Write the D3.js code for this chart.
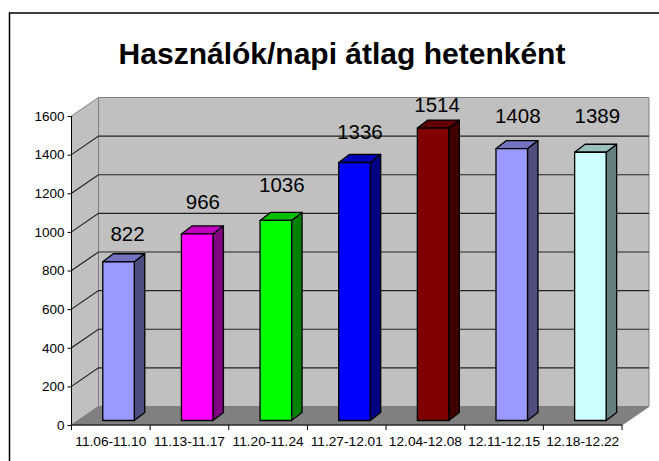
<!DOCTYPE html>
<html><head><meta charset="utf-8">
<script src="https://cdn.jsdelivr.net/npm/d3@7/dist/d3.min.js"></script>
<style>html,body{margin:0;padding:0;background:#fff}svg{display:block}text{font-family:"Liberation Sans",Arial,sans-serif;fill:#000}</style>
</head><body><div id="c"></div>
<script>
const chartTitle = "Használók/napi átlag hetenként";
const categories = ["11.06-11.10","11.13-11.17","11.20-11.24","11.27-12.01","12.04-12.08","12.11-12.15","12.18-12.22"];
const values = [822,966,1036,1336,1514,1408,1389];
const frontColors = ["#9999ff","#ff00ff","#00ff00","#0000ff","#800000","#9999ff","#ccffff"];
const topColors = ["#7373bf","#bf00bf","#00bf00","#0000bf","#600000","#7373bf","#99bfbf"];
const sideColors = ["#4d4d80","#800080","#008000","#000080","#400000","#4d4d80","#668080"];
const yTicks = [0,200,400,600,800,1000,1200,1400,1600];
const labelRaise = [25,29,33,28,21,30,34];
const labelShift = [9,5.7,6,5.5,4,6,7];

const W=659,H=461;
const svg=d3.select("#c").append("svg").attr("width",W).attr("height",H);
const y=d3.scaleLinear().domain([0,1600]).range([425,116]);
const x=d3.scaleBand().domain(categories).range([71.5,622]);
const wallDx=27, wallDy=-18.5, barW=31.5, depthX=10.5, depthY=-8, barLift=4.5, barOffset=7.7;
const xR=x.range()[1];

svg.append("path").attr("d",`M9.5,${H}V13H${W}`).attr("fill","none").attr("stroke","#000").attr("stroke-width",1.5);
svg.append("text").attr("x",342).attr("y",64).attr("text-anchor","middle").attr("font-size",30).attr("font-weight","bold").text(chartTitle);

const line=d3.line();
const poly=p=>line(p)+"Z";
const x0=x.range()[0], y0=y(0), yT=y(1600);
svg.append("path").attr("d",poly([[x0,y0],[x0+wallDx,y0+wallDy],[x0+wallDx,yT+wallDy],[x0,yT]])).attr("fill","#c0c0c0").attr("stroke","#808080");
svg.append("path").attr("d",poly([[x0+wallDx,y0+wallDy],[xR+wallDx,y0+wallDy],[xR+wallDx,yT+wallDy],[x0+wallDx,yT+wallDy]])).attr("fill","#c0c0c0").attr("stroke","#808080");
svg.append("g").selectAll("path").data(yTicks.filter(d=>d>0&&d<1600)).join("path")
  .attr("d",d=>line([[x0,y(d)],[x0+wallDx,y(d)+wallDy],[xR+wallDx,y(d)+wallDy]]))
  .attr("fill","none").attr("stroke","#222").attr("stroke-width",1.2);
svg.append("path").attr("d",poly([[x0,y0],[xR,y0],[xR+wallDx,y0+wallDy],[x0+wallDx,y0+wallDy]])).attr("fill","#808080").attr("stroke","#808080");

const bars=svg.append("g").selectAll("g").data(categories).join("g").attr("stroke","#000").attr("stroke-width",1.3).attr("stroke-linejoin","round");
const L=(c)=>x(c)+x.bandwidth()/2+barOffset-barW/2;
const T=(i)=>y(values[i])-barLift, B=y0-barLift;
bars.append("path").attr("d",(c,i)=>poly([[L(c)+barW,T(i)],[L(c)+barW+depthX,T(i)+depthY],[L(c)+barW+depthX,B+depthY],[L(c)+barW,B]])).attr("fill",(c,i)=>sideColors[i]);
bars.append("path").attr("d",(c,i)=>poly([[L(c),T(i)],[L(c)+depthX,T(i)+depthY],[L(c)+barW+depthX,T(i)+depthY],[L(c)+barW,T(i)]])).attr("fill",(c,i)=>topColors[i]);
bars.append("rect").attr("x",c=>L(c)).attr("y",(c,i)=>T(i)).attr("width",barW).attr("height",(c,i)=>B-T(i)).attr("fill",(c,i)=>frontColors[i]);

svg.append("g").selectAll("text").data(categories).join("text")
  .attr("x",(c,i)=>x(c)+x.bandwidth()/2+barOffset+labelShift[i])
  .attr("y",(c,i)=>y(values[i])-labelRaise[i])
  .attr("text-anchor","middle").attr("font-size",20.5).text((c,i)=>values[i]);

const ax=svg.append("g").attr("transform",`translate(${x0},0)`).call(d3.axisLeft(y).tickValues(yTicks).tickSize(4).tickPadding(3).tickFormat(d3.format("d")));
ax.selectAll("text").attr("font-size",13.5).attr("font-family",null);
ax.selectAll("line,path").attr("stroke","#000");
ax.select(".domain").attr("d",`M0,${yT}V${y0}`);

const bx=svg.append("g").attr("transform",`translate(0,${y0})`).call(d3.axisBottom(x).tickSize(0).tickPadding(21));
bx.select(".domain").attr("stroke","#000").attr("d",`M${x0},0H${xR}`);
bx.selectAll("text").attr("font-size",13.7).attr("dy",null).attr("font-family",null);
bx.selectAll(".edge").data(categories.concat("end")).join("line").attr("class","edge")
  .attr("x1",c=>c==="end"?xR:x(c)).attr("x2",c=>c==="end"?xR:x(c)).attr("y1",0).attr("y2",5).attr("stroke","#000");
</script></body></html>
